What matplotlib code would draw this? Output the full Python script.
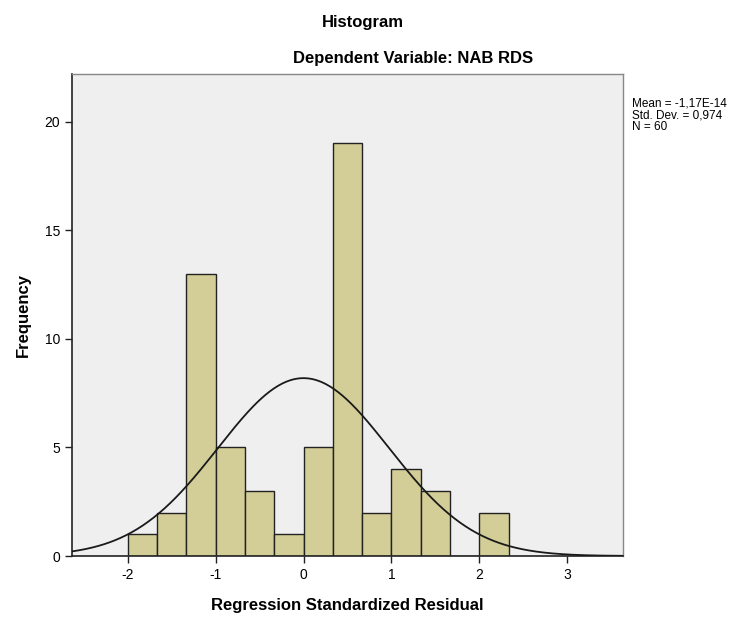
import numpy as np
import matplotlib
matplotlib.use("Agg")
import matplotlib.pyplot as plt

plt.rcParams['font.family'] = ['Liberation Sans', 'DejaVu Sans']
plt.rcParams['axes.unicode_minus'] = False

# Data
bin_edges = [-2.0, -5/3, -4/3, -1.0, -2/3, -1/3, 0.0, 1/3, 2/3, 1.0, 4/3, 5/3, 2.0, 7/3]
counts = [1, 2, 13, 5, 3, 1, 5, 19, 2, 4, 3, 0, 2]
mean_val = -1.17e-14
std_val = 0.974
n_val = 60
x_ticks = [-2, -1, 0, 1, 2, 3]
y_ticks = [0, 5, 10, 15, 20]

fig = plt.figure(figsize=(7.51, 6.19), dpi=100)
ax = fig.add_axes([72/751, 1-556/619, (623-72)/751, (556-74)/619])
ax.set_facecolor('#EFEFEF')

lefts = np.array(bin_edges[:-1])
widths = np.diff(bin_edges)
ax.bar(lefts, counts, width=widths, align='edge', color='#D3CE97',
       edgecolor='#222222', linewidth=1.0, zorder=2)

xlim = (-2.634, 3.635)
xs = np.linspace(xlim[0], xlim[1], 400)
bw = widths[0]
ys = n_val * bw / (std_val * np.sqrt(2*np.pi)) * np.exp(-0.5*((xs-mean_val)/std_val)**2)
ax.plot(xs, ys, color='#1a1a1a', linewidth=1.3, zorder=3)

ax.set_xlim(*xlim)
ax.set_ylim(0, 22.2)
ax.set_xticks(x_ticks)
ax.set_yticks(y_ticks)
ax.tick_params(direction='out', length=5, width=1, labelsize=10, color='#222222')
for s in ['left', 'bottom']:
    ax.spines[s].set_color('#222222')
    ax.spines[s].set_linewidth(1.2)
for s in ['top', 'right']:
    ax.spines[s].set_color('#888888')
    ax.spines[s].set_linewidth(1.0)

ax.set_xlabel('Regression Standardized Residual', fontsize=12, fontweight='bold', labelpad=12)
ax.set_ylabel('Frequency', fontsize=12, fontweight='bold', labelpad=10)

fig.text(363/751, 1-22/619, 'Histogram', ha='center', va='center', fontsize=12, fontweight='bold')
fig.text(413/751, 1-58/619, 'Dependent Variable: NAB RDS', ha='center', va='center',
         fontsize=12, fontweight='bold')

fig.text(632/751, 1-98/619,
         'Mean = -1,17E-14\nStd. Dev. = 0,974\nN = %d' % n_val,
         ha='left', va='top', fontsize=8.5, linespacing=0.95)

fig.savefig('out.png', dpi=100)
